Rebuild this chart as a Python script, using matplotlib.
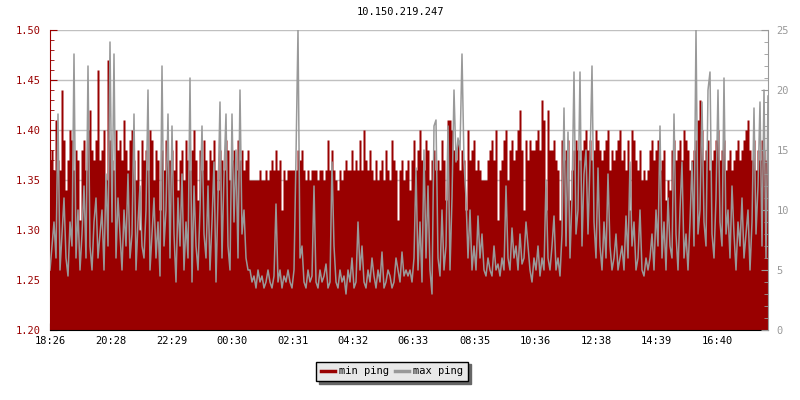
import numpy as np
import matplotlib
matplotlib.use('Agg')
import matplotlib.pyplot as plt
from matplotlib.ticker import MultipleLocator, FormatStrFormatter

# ============================================================
# Data (sampled every ~4 minutes, read off the picture)
# ============================================================

title = '10.150.219.247'

tick_minutes = [0, 122, 243, 364, 485, 606, 727, 849, 970, 1092, 1213, 1334]
tick_labels = ['18:26', '20:28', '22:29', '00:30', '02:31', '04:32',
               '06:33', '08:35', '10:36', '12:38', '14:39', '16:40']
span_minutes = 1436

# min ping, in hundredths above 1 ms
min_ping_cents = [
    37, 38, 36, 41, 37, 36, 44, 39, 34, 37, 40, 39, 36, 38, 37, 31, 38, 39, 36, 40,
    42, 38, 37, 39, 46, 37, 38, 40, 35, 47, 39, 37, 36, 40, 38, 39, 37, 41, 38, 36,
    39, 40, 37, 35, 38, 30, 39, 37, 38, 36, 40, 39, 35, 38, 37, 32, 38, 36, 39, 37,
    37, 38, 36, 39, 34, 37, 38, 35, 39, 37, 36, 38, 40, 37, 33, 38, 36, 39, 37, 35,
    38, 37, 39, 36, 34, 38, 37, 36, 39, 38, 35, 37, 38, 36, 39, 37, 38, 36, 37, 38,
    35, 35, 35, 35, 35, 36, 35, 35, 36, 35, 36, 37, 36, 38, 36, 37, 32, 36, 35, 36,
    36, 36, 36, 36, 38, 37, 38, 36, 35, 36, 35, 36, 36, 36, 35, 36, 36, 35, 36, 39,
    36, 38, 36, 35, 34, 36, 35, 36, 37, 36, 36, 38, 36, 37, 36, 39, 36, 40, 37, 36,
    38, 36, 35, 37, 35, 36, 37, 35, 38, 36, 35, 39, 37, 36, 31, 36, 37, 35, 36, 37,
    34, 37, 39, 36, 38, 40, 37, 36, 39, 38, 35, 37, 38, 36, 37, 36, 39, 37, 33, 41,
    41, 40, 38, 37, 39, 36, 38, 37, 32, 40, 37, 38, 39, 36, 37, 36, 35, 35, 35, 37,
    38, 39, 37, 40, 31, 36, 37, 39, 40, 35, 38, 39, 37, 38, 40, 42, 38, 32, 39, 37,
    39, 38, 38, 39, 40, 38, 43, 41, 32, 42, 38, 38, 39, 37, 36, 31, 39, 37, 38, 39,
    33, 36, 38, 39, 38, 37, 38, 39, 40, 38, 39, 37, 38, 40, 39, 38, 37, 38, 39, 40,
    36, 38, 37, 38, 39, 40, 37, 38, 36, 39, 32, 40, 39, 37, 36, 38, 35, 36, 35, 36,
    38, 39, 37, 38, 39, 36, 37, 38, 33, 35, 34, 38, 39, 37, 38, 39, 37, 40, 39, 38,
    36, 37, 38, 39, 41, 43, 40, 37, 38, 39, 36, 37, 38, 39, 40, 37, 38, 39, 36, 37,
    38, 36, 37, 38, 39, 37, 38, 39, 40, 41, 38, 37, 39, 36, 38, 37, 39, 38, 37, 38,
]

# max ping, ms
max_ping = [
    5, 7, 9, 6, 18, 5, 8, 11, 6, 4.5, 9, 7, 23, 6, 10, 5, 8, 12, 6, 22,
    7, 5, 9, 11, 6, 8, 10, 5, 13, 7, 24, 9, 23, 6, 11, 8, 5, 10, 7, 13,
    6, 8, 18, 5, 9, 12, 7, 6, 10, 20, 5, 8, 11, 6, 9, 4.5, 22, 7, 10, 18,
    6, 17, 8, 4, 11, 7, 13, 5, 9, 6, 21, 4, 12, 7, 5, 10, 17, 8, 6, 12,
    5, 9, 14, 4, 11, 19, 6, 13, 18, 7, 5, 18, 9, 15, 6, 20, 8, 10, 6, 5,
    5, 4, 4.5, 3.5, 5, 4, 4.5, 3.5, 4, 5, 4, 3.5, 4.5, 10.5, 4, 5, 3.5, 4.5, 4, 5,
    4, 3.5, 5, 14.5, 25, 6, 7, 4, 3.5, 5, 4, 4.5, 12, 4, 3.5, 5, 4, 4.5, 5.5, 3.5,
    4, 14, 7, 4, 3.5, 5, 4, 4.5, 3, 5, 4, 6, 3.5, 4, 9, 5, 7, 4, 3.5, 5,
    4, 6, 4.5, 3.5, 5, 4, 6.5, 3.5, 4, 5, 4.5, 3.5, 4, 6, 5, 4, 6.5, 4.5, 5, 4.5,
    5, 4, 6, 13.5, 5, 9, 4, 15, 6, 12, 5, 3, 17, 17.5, 6, 4.5, 10, 5, 7, 17,
    5, 11, 20, 14, 16, 15, 23, 14, 11, 6, 10, 5, 7, 5, 9.5, 6, 8, 5, 4.5, 6,
    5, 4.5, 7, 5, 5.5, 4.5, 6, 5, 12, 6, 5, 8.5, 6, 7, 5, 8, 5.5, 6, 9, 7,
    5, 4, 6, 5, 7, 4.5, 6, 5, 12.5, 6, 5, 7, 9.5, 5, 6, 4.5, 8, 18.5, 7, 16.5,
    6, 11, 21.5, 8, 10, 21.5, 7, 13, 15, 8, 14, 22, 9, 6, 13.5, 7, 5, 9, 6, 13,
    7, 5, 6, 8, 5, 6, 7, 5, 9.5, 6, 14, 7, 9, 5, 6, 10, 5, 4.5, 6, 5,
    6, 8, 5, 10, 7, 17, 6, 9, 5, 11, 7, 6, 18, 8, 5, 10, 14, 6, 8, 5,
    9, 14, 7, 25, 8, 10, 19, 9, 7, 20, 21.5, 8, 6, 11, 20, 9, 7, 21, 8, 10,
    6, 12, 8, 5, 9, 7, 11, 6, 8, 10, 5, 9, 18.5, 8, 12, 19, 7, 20, 6, 19.5,
]

# ============================================================
# Style
# ============================================================

RED = '#990000'
GRAY = '#999999'
FONT = 'DejaVu Sans Mono'
FS = 7.5

plt.rcParams['font.family'] = FONT

min_ping = 1 + np.array(min_ping_cents) / 100.0
x_min = np.linspace(0, span_minutes, len(min_ping))
x_max = np.linspace(0, span_minutes, len(max_ping))

fig = plt.figure(figsize=(8, 4), dpi=100)
ax = fig.add_axes([50 / 800, 70 / 400, 718 / 800, 300 / 400])

ax.fill_between(x_min, 1.2, min_ping, step='mid', color=RED, lw=0,
                label='min ping')

ax.set_xlim(0, span_minutes)
ax.set_ylim(1.2, 1.5)
ax.set_axisbelow(True)
ax.yaxis.grid(True, color='#c0c0c0', lw=1)
ax.xaxis.grid(False)

ax.yaxis.set_major_locator(MultipleLocator(0.05))
ax.yaxis.set_minor_locator(MultipleLocator(0.01))
ax.yaxis.set_major_formatter(FormatStrFormatter('%.2f'))
ax.tick_params(axis='y', which='both', direction='in', colors=RED,
               labelsize=FS, pad=7)
ax.tick_params(axis='y', which='major', length=5)
ax.tick_params(axis='y', which='minor', length=3)

ax.set_xticks(tick_minutes)
ax.set_xticklabels(tick_labels)
ax.tick_params(axis='x', direction='in', length=5, colors='black',
               labelsize=FS, pad=4)

ax.spines['top'].set_visible(False)
ax.spines['left'].set_color(RED)
ax.spines['bottom'].set_color('black')
ax.spines['right'].set_visible(False)

# max ping on the right scale

ax2 = ax.twinx()
ax2.plot(x_max, max_ping, color=GRAY, lw=1.1, label='max ping')
ax2.set_ylim(0, 25)
ax2.yaxis.set_major_locator(MultipleLocator(5))
ax2.yaxis.set_minor_locator(MultipleLocator(1))
ax2.tick_params(axis='y', which='both', direction='in', colors=GRAY,
                labelsize=FS, pad=6)
ax2.tick_params(axis='y', which='major', length=5)
ax2.tick_params(axis='y', which='minor', length=3)
for s in ['top', 'left', 'bottom']:
    ax2.spines[s].set_visible(False)
ax2.spines['right'].set_color(GRAY)

fig.text(0.5, 0.97, title, ha='center', va='center', fontsize=FS,
         color='black')

h1, l1 = ax.get_legend_handles_labels()
h2, l2 = ax2.get_legend_handles_labels()
handles = [plt.Line2D([], [], color=RED, lw=2.5),
           plt.Line2D([], [], color=GRAY, lw=2.5)]
leg = fig.legend(handles, l1 + l2, loc='center', bbox_to_anchor=(0.49, 0.072),
                 ncol=2, fontsize=FS, frameon=True, fancybox=False,
                 shadow={'color': '#666666', 'alpha': 1},
                 handlelength=1.4, handletextpad=0.4, columnspacing=0.5,
                 borderpad=0.45, borderaxespad=0)
leg.get_frame().set_facecolor('#e8e8e8')
leg.get_frame().set_edgecolor('black')
leg.get_frame().set_alpha(1)
leg.get_frame().set_linewidth(1)

fig.savefig('out.png', dpi=100)
